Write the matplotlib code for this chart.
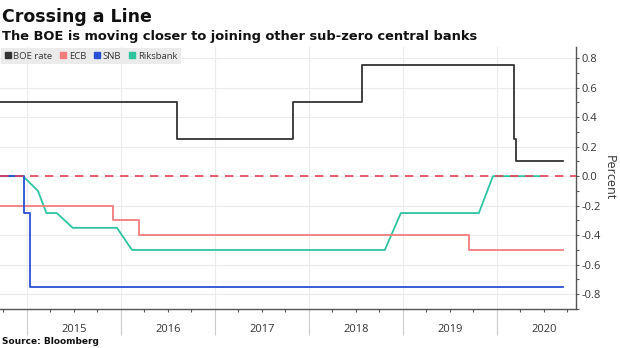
#!/usr/bin/env python3
# -*- coding: utf-8 -*-

import matplotlib
matplotlib.use("Agg")
import matplotlib.pyplot as plt
from matplotlib.lines import Line2D
from matplotlib.ticker import MultipleLocator, FixedLocator, NullFormatter

# policy rates, x in decimal years
boe_x = [2014.72, 2016.60, 2017.83, 2018.57, 2020.18, 2020.20, 2020.71]
boe_y = [0.50, 0.25, 0.50, 0.75, 0.25, 0.10, 0.10]

ecb_x = [2014.72, 2015.92, 2016.19, 2019.70, 2020.71]
ecb_y = [-0.20, -0.30, -0.40, -0.50, -0.50]

snb_x = [2014.72, 2014.97, 2015.04, 2020.71]
snb_y = [0.00, -0.25, -0.75, -0.75]

riks_x = [2014.72, 2014.96, 2015.12, 2015.21, 2015.32, 2015.49, 2015.96,
          2016.12, 2018.81, 2018.98, 2019.81, 2019.96, 2020.46]
riks_y = [0.00, 0.00, -0.10, -0.25, -0.25, -0.35, -0.35,
          -0.50, -0.50, -0.25, -0.25, 0.00, 0.00]

years = [2015, 2016, 2017, 2018, 2019, 2020]
year_labels = ["2015", "2016", "2017", "2018", "2019", "2020"]

labels = ["BOE rate", "ECB", "SNB", "Riksbank"]
colors = ["#333333", "#f47c7c", "#2a4fd4", "#2ec4a0"]


def main():
    plt.rcParams["font.family"] = ["Open Sans", "DejaVu Sans"]
    plt.rcParams["axes.unicode_minus"] = False

    fig = plt.figure(figsize=(6.2, 3.48), dpi=100)
    ax = fig.add_axes([0.0, 0.112, 0.9285, 0.753])

    # lines
    ax.plot(riks_x, riks_y, color=colors[3], lw=1.3)
    ax.plot(ecb_x, ecb_y, color=colors[1], lw=1.3, drawstyle="steps-post")
    ax.plot(snb_x, snb_y, color=colors[2], lw=1.3, drawstyle="steps-post")
    ax.plot(boe_x, boe_y, color=colors[0], lw=1.3, drawstyle="steps-post")
    ax.axhline(0, color="#e8405a", lw=1.2, ls=(0, (5, 4)), zorder=5)

    ax.set_xlim(2014.716, 2020.84)
    ax.set_ylim(-0.9, 0.875)

    # x axis: long year separators, quarterly minor ticks
    ax.xaxis.set_major_locator(FixedLocator(years))
    ax.xaxis.set_major_formatter(NullFormatter())
    quarters = [y + q / 4 for y in [2014] + years for q in (1, 2, 3)]
    ax.xaxis.set_minor_locator(FixedLocator(quarters))
    ax.tick_params(axis="x", which="major", length=19, width=0.8, color="#cccccc")
    ax.tick_params(axis="x", which="minor", length=2.5, width=0.8, color="#555555")

    sec = ax.secondary_xaxis("bottom")
    sec.set_xticks([y + 0.5 for y in years], year_labels)
    sec.tick_params(length=0, pad=11, labelsize=8, labelcolor="#333333")
    sec.spines["bottom"].set_visible(False)

    # y axis on the right
    ax.yaxis.tick_right()
    ax.yaxis.set_label_position("right")
    ax.yaxis.set_major_locator(MultipleLocator(0.2))
    ax.yaxis.set_minor_locator(MultipleLocator(0.1))
    ax.yaxis.set_major_formatter(lambda v, p: f"{v:.1f}")
    ax.tick_params(axis="y", which="major", length=2.5, width=0.8, color="#555555",
                   labelsize=8, labelcolor="#333333", pad=1.5)
    ax.tick_params(axis="y", which="minor", length=2, width=0.8, color="#555555")
    ax.set_ylabel("Percent", rotation=270, fontsize=9, color="#333333", labelpad=11)

    ax.grid(True, which="major", color="#ebebeb", lw=0.8)
    ax.set_axisbelow(True)
    for side in ["top", "left"]:
        ax.spines[side].set_visible(False)
    for side in ["bottom", "right"]:
        ax.spines[side].set_color("#555555")
        ax.spines[side].set_linewidth(1.0)

    # legend
    handles = [Line2D([], [], marker="s", ls="none", color=c, markersize=4.5) for c in colors]
    leg = ax.legend(handles, labels, loc="upper left", bbox_to_anchor=(0, 1.0), ncol=4,
                    fontsize=6.8, frameon=True, facecolor="#ebebeb", edgecolor="none",
                    fancybox=False, framealpha=1, handlelength=0.6, handletextpad=0.3,
                    columnspacing=0.85, borderaxespad=0.1, borderpad=0.4)
    for t in leg.get_texts():
        t.set_color("#333333")

    # titles and source
    fig.text(0.004, 0.937, "Crossing a Line", fontsize=12.5, fontweight="bold",
             color="#111111", va="baseline", family="DejaVu Sans")
    fig.text(0.004, 0.884, "The BOE is moving closer to joining other sub-zero central banks",
             fontsize=9.4, fontweight="bold", color="#111111", va="baseline",
             family="DejaVu Sans")
    fig.text(0.004, 0.012, "Source: Bloomberg", fontsize=6.5, fontweight="bold",
             color="#111111", va="baseline", family="DejaVu Sans")

    fig.savefig("out.png", dpi=100)


if __name__ == '__main__':
    main()
